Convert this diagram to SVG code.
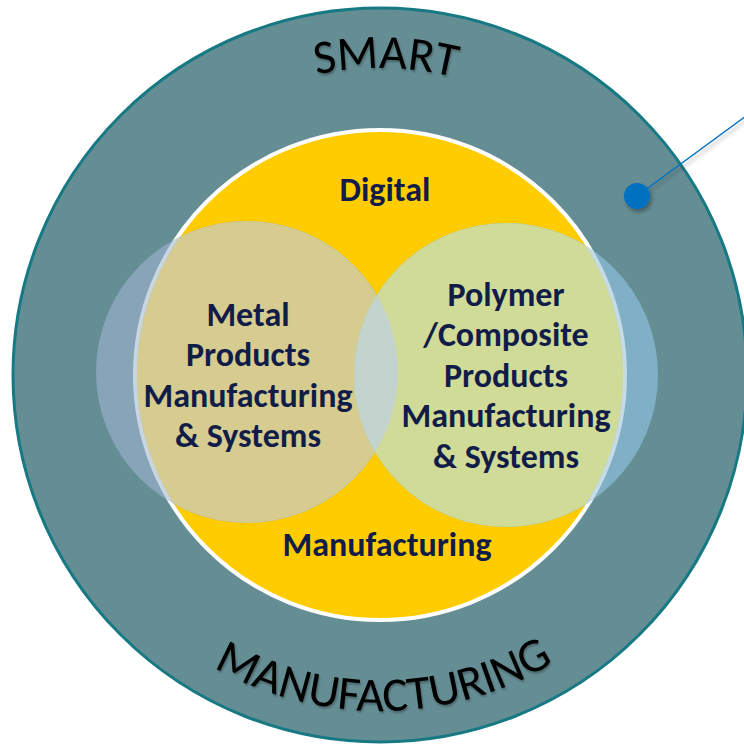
<svg xmlns="http://www.w3.org/2000/svg" width="744" height="744" viewBox="0 0 744 744">
<style>
.lbl{font-family:Carlito,Lato,"Open Sans",sans-serif;font-weight:bold;font-size:34px;fill:#111d48;text-anchor:middle}
.arc{font-family:Carlito,Lato,"Open Sans",sans-serif;font-size:48px;fill:#000;text-anchor:middle}
</style>
<defs>
<filter id="sh" x="-50%" y="-50%" width="200%" height="200%"><feDropShadow dx="2" dy="3" stdDeviation="2" flood-color="#000" flood-opacity="0.35"/></filter>
<filter id="tsh" x="-10%" y="-10%" width="120%" height="130%"><feDropShadow dx="1" dy="2" stdDeviation="1.2" flood-color="#000" flood-opacity="0.3"/></filter>
<clipPath id="inY"><circle cx="380" cy="375" r="243"/></clipPath>
<clipPath id="inR"><circle cx="506" cy="375" r="152"/></clipPath>
<clipPath id="both"><circle cx="247" cy="372" r="151"/><circle cx="506" cy="375" r="152"/></clipPath>
<path id="topArc" d="M 73 375 A 307 307 0 0 1 687 375"/>
<path id="botArc" d="M 44 375 A 336 336 0 0 0 716 375"/>
</defs>
<g id="smart-ring">
<circle cx="380" cy="375" r="367" fill="#658e94" stroke="#177983" stroke-width="3"/>
<text class="arc" filter="url(#tsh)"><textPath href="#topArc" startOffset="50.6%">SMART</textPath></text>
<text class="arc" filter="url(#tsh)"><textPath href="#botArc" startOffset="50.4%">MANUFACTURING</textPath></text>
</g>
<g id="digital-manufacturing">
<circle cx="380" cy="375" r="245" fill="#ffcc00" stroke="#ffffff" stroke-width="4"/>
</g>
<g id="metal">
<circle cx="247" cy="372" r="151" fill="#87a4b8"/>
<circle cx="247" cy="372" r="151" fill="#d6cc8f" clip-path="url(#inY)"/>
</g>
<g id="polymer">
<circle cx="506" cy="375" r="152" fill="#80b0c5"/>
<circle cx="506" cy="375" r="152" fill="#d0db98" clip-path="url(#inY)"/>
<g clip-path="url(#inR)"><circle cx="247" cy="372" r="151" fill="#c3d3ce"/></g>
<circle cx="380" cy="375" r="245" fill="none" stroke="#ffffff" stroke-opacity="0.55" stroke-width="4" clip-path="url(#both)"/>
</g>
<g id="labels">
<text class="lbl" x="385" y="201">Digital</text>
<text class="lbl" x="387" y="556">Manufacturing</text>
<text class="lbl" x="248" y="326">Metal</text>
<text class="lbl" x="248" y="366">Products</text>
<text class="lbl" x="248" y="407">Manufacturing</text>
<text class="lbl" x="248" y="447">&amp; Systems</text>
<text class="lbl" x="506" y="306">Polymer</text>
<text class="lbl" x="506" y="346">/Composite</text>
<text class="lbl" x="506" y="387">Products</text>
<text class="lbl" x="506" y="427">Manufacturing</text>
<text class="lbl" x="506" y="468">&amp; Systems</text>
</g>
<g id="connectors" filter="url(#sh)">
<line x1="637" y1="196" x2="746" y2="116" stroke="#0070c0" stroke-width="1.5"/>
<circle cx="637" cy="196" r="13" fill="#0070c0"/>
</g>
</svg>
